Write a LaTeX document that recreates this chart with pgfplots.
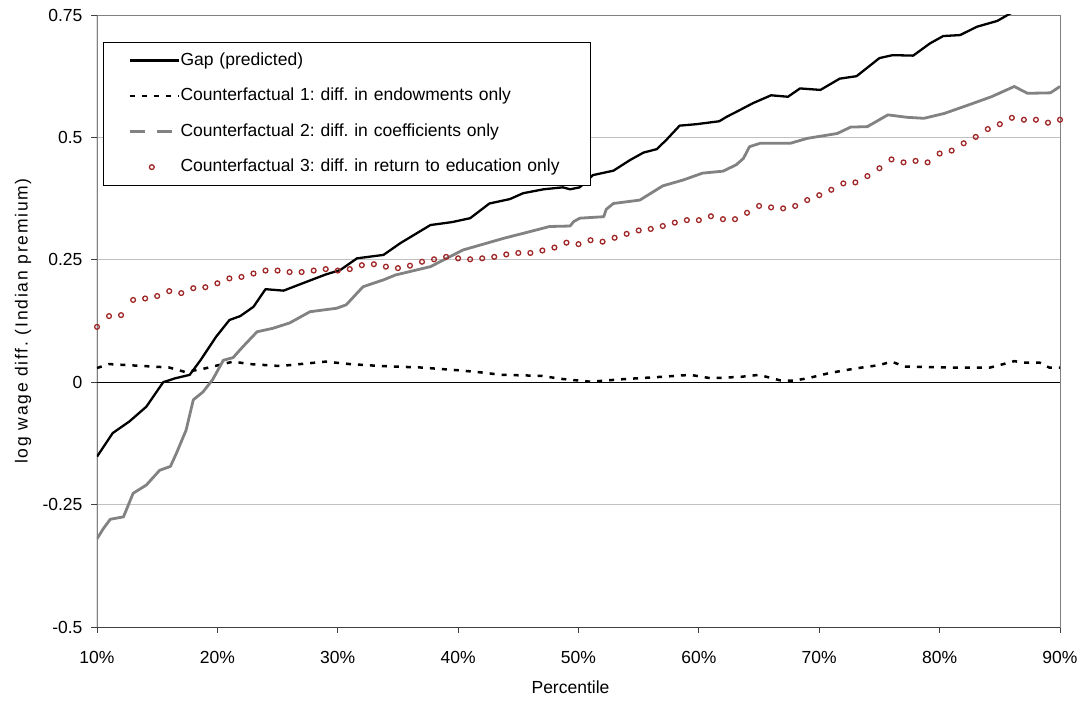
\documentclass[border=0pt]{standalone}
\usepackage{fontspec}
\setmainfont{Liberation Sans}
\usepackage{pgfplots}
\pgfplotsset{compat=1.18}
\usepackage{pgfplotstable}
\frenchspacing

\definecolor{cfred}{RGB}{160,40,40}
\definecolor{cfgray}{RGB}{130,130,130}
\definecolor{gridgray}{RGB}{192,192,192}
\definecolor{bordergray}{RGB}{128,128,128}

\pgfplotstableread{
x y
10 -0.152
11.3 -0.104
12.7 -0.080
14.1 -0.050
15.5 0.000
16.5 0.008
17.7 0.015
18.6 0.045
19.9 0.093
21.0 0.127
21.9 0.135
23.0 0.154
24.0 0.190
25.5 0.187
27.4 0.205
29.0 0.220
30.2 0.229
31.6 0.253
33.8 0.260
35.2 0.284
37.7 0.321
39.5 0.327
41.0 0.335
42.6 0.365
44.3 0.374
45.4 0.386
47.1 0.394
48.7 0.398
49.3 0.394
50.1 0.398
51.2 0.423
52.9 0.432
54.3 0.454
55.4 0.469
56.5 0.476
57.3 0.495
58.4 0.524
59.8 0.527
61.7 0.533
62.3 0.542
63.1 0.552
64.5 0.570
66.0 0.586
67.4 0.583
68.4 0.600
70.1 0.597
71.7 0.620
73.1 0.625
75.0 0.662
76.1 0.668
77.8 0.667
79.2 0.692
80.3 0.707
81.7 0.709
83.1 0.726
84.8 0.738
86.0 0.755
86.3 0.762
}\gap

\pgfplotstableread{
x y
10 0.029
11 0.037
14.6 0.032
16 0.030
17.3 0.021
18.6 0.026
21.3 0.042
22.7 0.037
25.2 0.033
29 0.042
31 0.037
33.6 0.033
36.9 0.030
40.2 0.024
41.9 0.020
43.6 0.015
46.9 0.013
48.5 0.007
51 0.001
53.6 0.006
56.9 0.011
59.3 0.015
61 0.008
63.5 0.011
65 0.015
66.7 0.004
67.9 0.003
69.2 0.009
70.9 0.019
73 0.028
75 0.035
76 0.042
77.1 0.032
80.8 0.030
84.2 0.030
85 0.035
86.2 0.043
87 0.040
88.3 0.040
89.1 0.030
90 0.030
}\cfone

\pgfplotstableread{
x y
10 -0.320
10.5 -0.300
11.1 -0.280
12.2 -0.275
13.0 -0.227
14.1 -0.210
15.2 -0.180
16.1 -0.172
16.6 -0.145
17.4 -0.098
18.0 -0.036
18.8 -0.020
19.6 0.005
20.5 0.045
21.3 0.050
22.1 0.072
23.3 0.103
24.6 0.110
26.0 0.121
27.7 0.144
29.9 0.151
30.7 0.158
32.1 0.195
33.8 0.209
34.8 0.219
37.7 0.236
40.4 0.270
43.8 0.294
45.4 0.304
47.6 0.318
49.3 0.319
49.6 0.328
50.1 0.335
52.1 0.338
52.3 0.353
52.9 0.365
55.1 0.372
57.0 0.401
58.7 0.413
60.3 0.427
62.0 0.431
63.1 0.444
63.7 0.457
64.2 0.481
65.1 0.488
67.6 0.488
69.0 0.498
71.5 0.508
72.6 0.521
74.0 0.522
75.7 0.546
77.3 0.541
78.7 0.539
80.4 0.549
82.6 0.568
84.3 0.583
86.2 0.604
87.3 0.590
89.2 0.591
90.0 0.604
}\cftwo

\pgfplotstableread{
x y
10 0.113
11 0.135
12 0.137
13 0.168
14 0.171
15 0.176
16 0.186
17 0.182
18 0.192
19 0.194
20 0.202
21 0.212
22 0.215
23 0.222
24 0.228
25 0.228
26 0.225
27 0.225
28 0.228
29 0.231
30 0.228
31 0.231
32 0.239
33 0.241
34 0.236
35 0.233
36 0.238
37 0.246
38 0.251
39 0.256
40 0.253
41 0.251
42 0.253
43 0.256
44 0.261
45 0.264
46 0.264
47 0.269
48 0.275
49 0.285
50 0.282
51 0.290
52 0.287
53 0.295
54 0.303
55 0.310
56 0.313
57 0.319
58 0.326
59 0.331
60 0.331
61 0.339
62 0.333
63 0.333
64 0.346
65 0.360
66 0.357
67 0.355
68 0.360
69 0.372
70 0.382
71 0.393
72 0.406
73 0.408
74 0.421
75 0.437
76 0.455
77 0.449
78 0.452
79 0.449
80 0.467
81 0.473
82 0.488
83 0.501
84 0.517
85 0.527
86 0.540
87 0.536
88 0.536
89 0.530
90 0.536
}\cfthree

\begin{document}
\begin{tikzpicture}[font=\fontsize{17.5}{21}\selectfont]
\begin{axis}[
  name=ax,
  at={(0,0)}, anchor=south west,
  scale only axis, width=963pt, height=612pt,
  xmin=10, xmax=90, ymin=-0.5, ymax=0.75,
  xtick={10,20,30,40,50,60,70,80,90},
  xticklabels={10\%,20\%,30\%,40\%,50\%,60\%,70\%,80\%,90\%},
  ytick={-0.5,-0.25,0,0.25,0.5,0.75},
  yticklabels={-0.5,-0.25,0,0.25,0.5,0.75},
  xtick pos=bottom, ytick pos=left,
  /pgf/number format/assume math mode=true,
  tick align=outside,
  major tick length=6pt,
  tick style={black!75, line width=0.9pt},
  axis line style={draw=bordergray, line width=0.9pt},
  ymajorgrids,
  grid style={gridgray, line width=0.9pt},
  extra y ticks={0},
  extra y tick labels={},
  extra y tick style={grid style={black, line width=1.2pt}, major tick length=0pt},
  clip=true,
  every axis y label/.style={at={(rel axis cs:0,0.5)}, xshift=-74pt, rotate=90, anchor=center,
     font=\fontsize{17.5}{21}\selectfont\addfontfeature{LetterSpace=10}},
  every axis x label/.style={at={(rel axis cs:0.5,0)}, xshift=-8pt, yshift=-60pt, anchor=center},
  ylabel={log wage diff. (Indian premium)},
  xlabel={Percentile},
  yticklabel style={font=\fontsize{17.5}{21}\selectfont, xshift=-5pt},
  xticklabel style={font=\fontsize{17.5}{21}\selectfont, yshift=-15pt},
  legend style={
    at={(0.0062,0.9564)}, anchor=north west,
    draw=black, line width=0.9pt, fill=white,
    inner xsep=0pt, inner ysep=10pt,
    row sep=18.5pt,
    nodes={inner xsep=0pt, inner ysep=0pt, text height=13pt, text depth=4pt, font=\fontsize{17.5}{21}\selectfont},
    /tikz/every odd column/.append style={column sep=0.5pt},
    /tikz/every even column/.append style={text width=410pt, align=left},
  },
  legend cell align=left,
]
\addplot[black, line width=2.3pt, line join=round,
  legend image code/.code={\path (0pt,0pt); \draw[black, line width=2.3pt] (25pt,0pt) -- (74pt,0pt);}]
  table[x=x,y=y] {\gap};
\addlegendentry{Gap (predicted)}
\addplot[black, line width=2.5pt, dash pattern=on 5pt off 7pt,
  legend image code/.code={\path (0pt,0pt); \draw[black, line width=2.5pt, dash pattern=on 5pt off 7pt] (25pt,0pt) -- (74pt,0pt);}]
  table[x=x,y=y] {\cfone};
\addlegendentry{Counterfactual 1: diff. in endowments only}
\addplot[cfgray, line width=2.8pt, line join=round,
  legend image code/.code={\path (0pt,0pt); \draw[cfgray, line width=2.5pt, dash pattern=on 15pt off 12pt] (25pt,0pt) -- (70pt,0pt);}]
  table[x=x,y=y] {\cftwo};
\addlegendentry{Counterfactual 2: diff. in coefficients only}
\addplot[only marks, mark=o, mark size=2.4pt, cfred, line width=1.3pt,
  legend image code/.code={\path (0pt,0pt) (74pt,0pt); \draw[cfred, line width=1.3pt] plot[mark=o, mark size=2.4pt] coordinates {(47pt,0pt)};}]
  table[x=x,y=y] {\cfthree};
\addlegendentry{Counterfactual 3: diff. in return to education only}
\draw[black, line width=1pt] (rel axis cs:0,0) -- (rel axis cs:0,1);
\draw[black!75, line width=1pt] (rel axis cs:0,0) -- (rel axis cs:1,0);
\end{axis}
\path[use as bounding box] ([xshift=-97pt,yshift=-75pt]ax.south west) rectangle ([xshift=23pt,yshift=15pt]ax.north east);
\end{tikzpicture}
\end{document}
